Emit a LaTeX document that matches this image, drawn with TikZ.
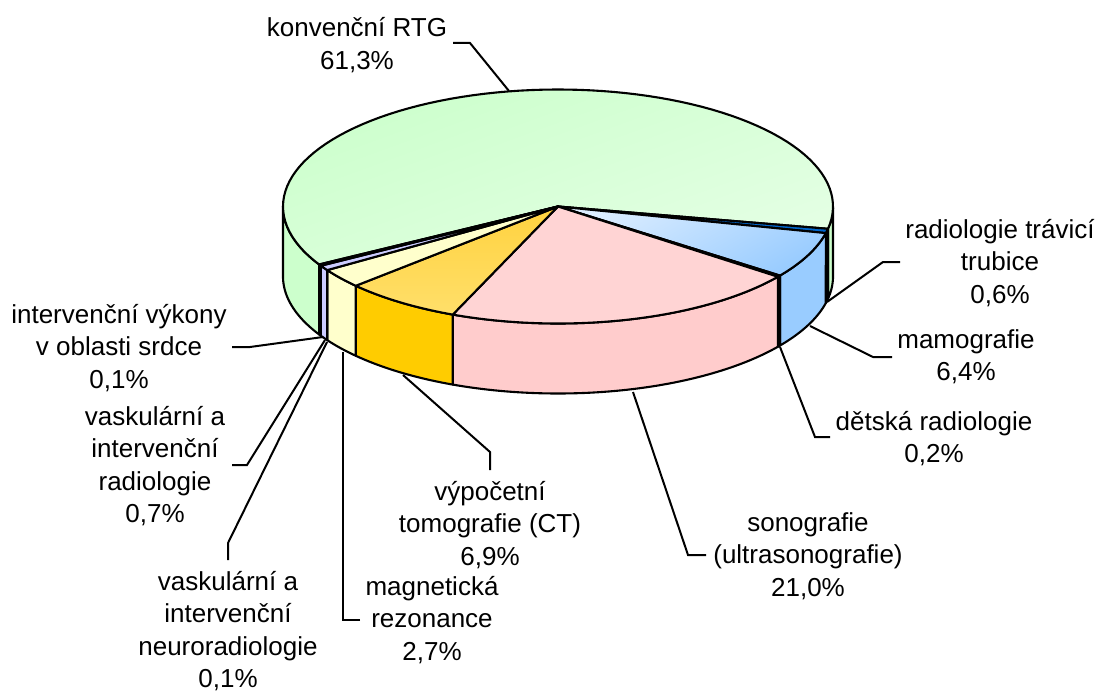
\documentclass[tikz,border=0pt]{standalone}
\usepackage{fontspec}
\setmainfont{Liberation Sans}
\definecolor{gSide}{HTML}{CCFFCC}
\definecolor{gTopA}{HTML}{CCFFCC}
\definecolor{gTopB}{HTML}{E4FFE4}
\definecolor{tCol}{HTML}{0066CC}
\definecolor{mSide}{HTML}{99CCFF}
\definecolor{mTopA}{HTML}{DCEDFF}
\definecolor{dCol}{HTML}{000080}
\definecolor{sSide}{HTML}{FFCCCC}
\definecolor{sTop}{HTML}{FFD4D4}
\definecolor{ctSide}{HTML}{FFCC00}
\definecolor{ctTopA}{HTML}{FFD23F}
\definecolor{ctTopB}{HTML}{FFDF6A}
\definecolor{mrCol}{HTML}{FFFFCC}
\definecolor{vCol}{HTML}{CCCCFF}
\definecolor{srCol}{HTML}{FF8080}
\definecolor{nCol}{HTML}{3366FF}
\newcommand{\pcx}{558}
\newcommand{\pcy}{206.5}
\newcommand{\prx}{275}
\newcommand{\pry}{117}
\newcommand{\pieH}{70}
\newcommand{\sideface}[3]{%
  \path[fill=#3, edge] plot[domain=#1:#2, samples=60] ({\pcx+\prx*cos(\x)},{\pcy+\pry*sin(\x)})
    -- plot[domain=#2:#1, samples=60] ({\pcx+\prx*cos(\x)},{\pcy+\pieH+\pry*sin(\x)}) -- cycle;}
\newcommand{\topface}[3]{%
  \path[#3, edge] (\pcx,\pcy) -- plot[domain=#1:#2, samples=90] ({\pcx+\prx*cos(\x)},{\pcy+\pry*sin(\x)}) -- cycle;}
\begin{document}
\begin{tikzpicture}[x=1pt,y=-1pt,
  lbl/.style={font=\fontsize{26}{32.5}\selectfont, align=center, inner sep=0pt, anchor=base},
  leader/.style={draw=black, line width=2pt, line join=miter},
  edge/.style={draw=black, line width=2.1pt, line join=round}]
\path[use as bounding box, fill=white] (0,0) rectangle (1100,693);

% side faces
\sideface{360}{370.98}{gSide}
\sideface{370.98}{373.14}{tCol}
\sideface{373.14}{396.18}{mSide}
\sideface{396.18}{396.90}{dCol}
\sideface{396.90}{472.50}{sSide}
\sideface{472.50}{497.34}{ctSide}
\sideface{497.34}{507.06}{mrCol}
\sideface{507.06}{509.58}{vCol}
\sideface{509.58}{509.94}{srCol}
\sideface{509.94}{510.30}{nCol}
\sideface{510.30}{540}{gSide}

% top faces
\topface{150.3}{370.98}{top color=gTopA, bottom color=gTopB, shading angle=20}
\topface{370.98}{373.14}{fill=tCol}
\topface{373.14}{396.18}{top color=mTopA, bottom color=mSide, shading angle=30}
\topface{396.18}{396.90}{fill=dCol}
\topface{396.90}{472.50}{fill=sTop}
\topface{472.50}{497.34}{top color=ctTopA, bottom color=ctTopB}
\topface{497.34}{507.06}{fill=mrCol}
\topface{507.06}{509.58}{fill=vCol}
\topface{509.58}{509.94}{fill=srCol}
\topface{509.94}{510.30}{fill=nCol}

% labels (anchor = baseline of last line)
\node[lbl] (lRTG) at (357,69.5) {konvenční RTG\\61,3\%};
\node[lbl] (lTT) at (1000,303) {radiologie trávicí\\trubice\\0,6\%};
\node[lbl] (lMam) at (966,380.5) {mamografie\\6,4\%};
\node[lbl] (lDet) at (934,462.5) {dětská radiologie\\0,2\%};
\node[lbl] (lSon) at (808,596) {sonografie\\(ultrasonografie)\\21,0\%};
\node[lbl] (lCT) at (490,565) {výpočetní\\tomografie (CT)\\6,9\%};
\node[lbl] (lMR) at (432,660) {magnetická\\rezonance\\2,7\%};
\node[lbl] (lNeu) at (228,687.5) {vaskulární a\\intervenční\\neuroradiologie\\0,1\%};
\node[lbl] (lVas) at (155,522.5) {vaskulární a\\intervenční\\radiologie\\0,7\%};
\node[lbl] (lSrd) at (119,388) {intervenční výkony\\v oblasti srdce\\0,1\%};

% leader coordinates
\coordinate (rtgA) at (453,43);  \coordinate (rtgB) at (470,43);  \coordinate (rtgP) at (509,91);
\coordinate (ttA) at (900,262);  \coordinate (ttB) at (883,262);  \coordinate (ttP) at (827,302);
\coordinate (mamA) at (892,357); \coordinate (mamB) at (873,357); \coordinate (mamP) at (810,326);
\coordinate (detA) at (830,437); \coordinate (detB) at (815,437); \coordinate (detP) at (780,347);
\coordinate (sonA) at (706,555); \coordinate (sonB) at (688,555); \coordinate (sonP) at (633,392);
\coordinate (ctA) at (490,470);  \coordinate (ctB) at (490,452);  \coordinate (ctP) at (403,375);
\coordinate (mrA) at (360,620);  \coordinate (mrB) at (343,620);  \coordinate (mrP) at (343,352);
\coordinate (neuA) at (228,560); \coordinate (neuB) at (228,543); \coordinate (neuP) at (327,342);
\coordinate (vasA) at (232,465); \coordinate (vasB) at (247,465); \coordinate (vasP) at (325,340);
\coordinate (srdA) at (232,347); \coordinate (srdB) at (250,347); \coordinate (srdP) at (323,337);

\draw[leader] (rtgA) -- (rtgB) -- (rtgP);
\draw[leader] (ttA) -- (ttB) -- (ttP);
\draw[leader] (mamA) -- (mamB) -- (mamP);
\draw[leader] (detA) -- (detB) -- (detP);
\draw[leader] (sonA) -- (sonB) -- (sonP);
\draw[leader] (ctA) -- (ctB) -- (ctP);
\draw[leader] (mrA) -- (mrB) -- (mrP);
\draw[leader] (neuA) -- (neuB) -- (neuP);
\draw[leader] (vasA) -- (vasB) -- (vasP);
\draw[leader] (srdA) -- (srdB) -- (srdP);
\end{tikzpicture}
\end{document}
